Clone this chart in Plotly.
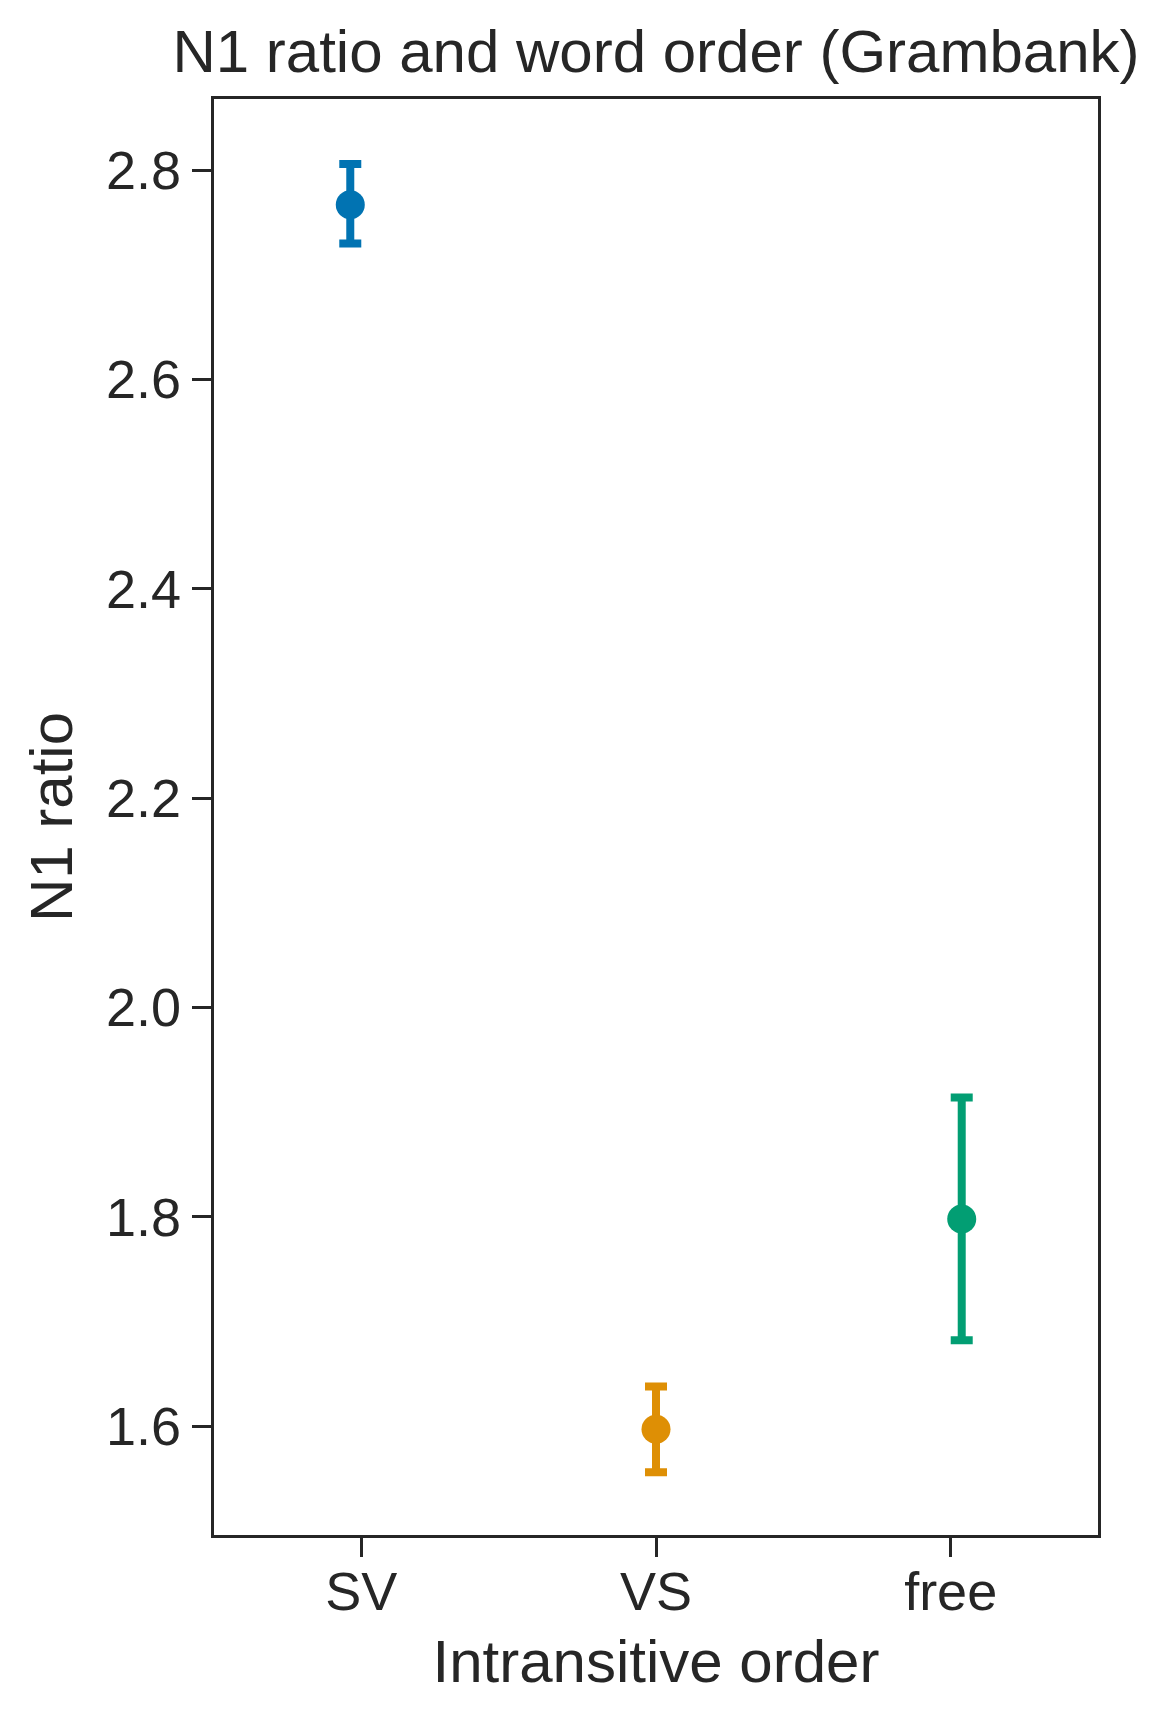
import numpy as np
import plotly.graph_objects as go

orders = ["SV", "VS", "free"]
colors = ["#0173b2", "#de8f05", "#029e73"]
n1_mean = [2.767, 1.597, 1.798]
ci_high = [2.806, 1.638, 1.914]
ci_low = [2.730, 1.556, 1.682]

FONT = "Liberation Sans, Arial, sans-serif"
INK = "#262626"

# seaborn-style dodge for hue levels
n = len(orders)
dodge = 0.025 * n
offsets = np.linspace(-dodge / 2, dodge / 2, n)

fig = go.Figure()
for i, (name, c) in enumerate(zip(orders, colors)):
    fig.add_trace(
        go.Scatter(
            x=[i + offsets[i]],
            y=[n1_mean[i]],
            mode="markers",
            name=name,
            marker=dict(color=c, size=29),
            error_y=dict(
                type="data",
                symmetric=False,
                array=[ci_high[i] - n1_mean[i]],
                arrayminus=[n1_mean[i] - ci_low[i]],
                color=c,
                thickness=8,
                width=11,
            ),
            showlegend=False,
        )
    )

axis_common = dict(
    showgrid=False,
    zeroline=False,
    showline=True,
    mirror=True,
    linecolor=INK,
    linewidth=3.3,
    ticks="outside",
    ticklen=19,
    tickwidth=3,
    tickcolor=INK,
    tickfont=dict(family=FONT, size=54, color=INK),
    title_font=dict(family=FONT, size=60, color=INK),
)

# page body adds an 8px offset, margins account for it
fig.update_layout(
    width=1168,
    height=1722,
    plot_bgcolor="white",
    paper_bgcolor="white",
    margin=dict(l=206, r=78, t=91, b=195),
    title=dict(
        text="N1 ratio and word order (Grambank)",
        x=0.5,
        xref="paper",
        xanchor="center",
        y=1 - 43 / 1722,
        yref="container",
        yanchor="middle",
        font=dict(family=FONT, size=60, color=INK),
    ),
    xaxis=dict(
        axis_common,
        range=[-0.5, 2.5],
        tickvals=list(range(n)),
        ticktext=orders,
        ticklabelstandoff=-12,
        title=dict(text="Intransitive order", standoff=21),
    ),
    yaxis=dict(
        axis_common,
        range=[1.496, 2.868],
        tickvals=[1.6, 1.8, 2.0, 2.2, 2.4, 2.6, 2.8],
        tickformat=".1f",
        title=dict(text="N1 ratio", standoff=14),
    ),
)

fig.write_html("out.html")
